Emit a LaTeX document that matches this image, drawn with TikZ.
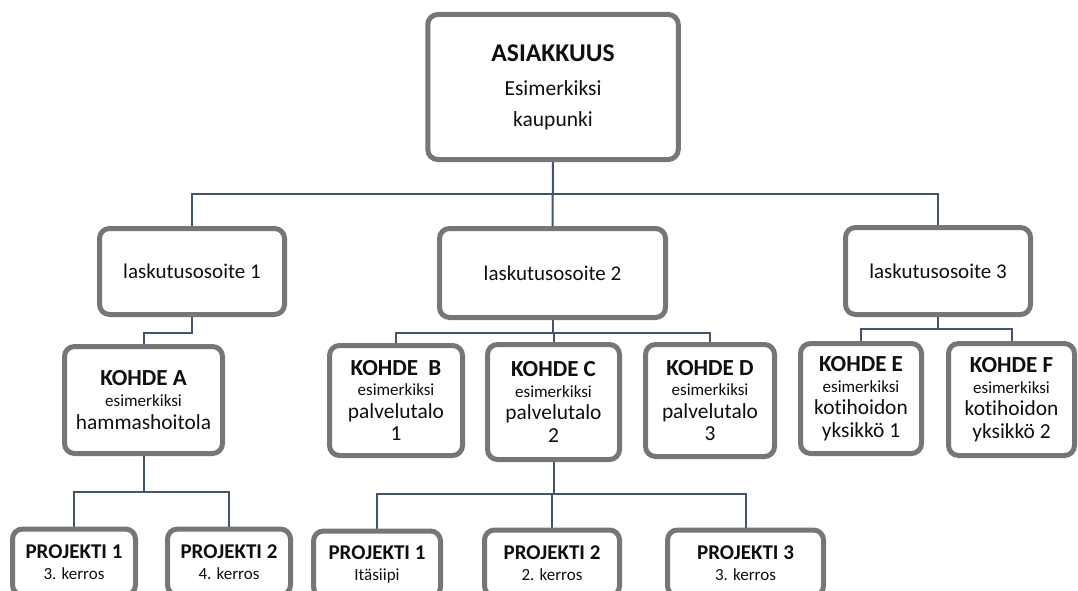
\documentclass[tikz,border=0pt]{standalone}
\usepackage{fontspec}
\setmainfont[Ligatures=NoCommon]{Carlito}
\usetikzlibrary{backgrounds,shadows}
\definecolor{conncol}{RGB}{68,84,106}
\definecolor{boxedge}{RGB}{118,118,118}
\definecolor{txt}{RGB}{15,15,15}
\tikzset{
  box/.style={draw=boxedge, line width=5pt, rounded corners=10pt, fill=white,
    align=center, text=txt, inner sep=0pt,
    drop shadow={shadow xshift=1.5pt, shadow yshift=-1.5pt, opacity=0.35, fill=black!60}},
  lbox/.style={box, font=\fontsize{21}{24}\selectfont},
  kbox/.style={box, font=\fontsize{21.4}{22.5}\selectfont},
  pbox/.style={box, font=\fontsize{17}{21}\selectfont, minimum height=66},
  conn/.style={draw=conncol, line width=2pt},
}
\newcommand{\ktitle}[1]{{\bfseries\fontsize{23}{23}\selectfont #1}}
\newcommand{\ksmall}[1]{{\fontsize{17}{17}\selectfont #1}}
\newcommand{\ptitle}[1]{{\bfseries\fontsize{21}{21}\selectfont #1}}
\begin{document}
\begin{tikzpicture}[x=1pt,y=-1pt]
\useasboundingbox (0,0) rectangle (1078,591);
\clip (0,0) rectangle (1078,591);

% level coordinates
\coordinate (lev0) at (0,194);
\coordinate (lev1) at (0,333);
\coordinate (lev2) at (0,333);
\coordinate (lev3) at (0,329);
\coordinate (lev4) at (0,492);
\coordinate (lev5) at (0,494);

% boxes
\node[box, font=\fontsize{21.5}{31}\selectfont, minimum width=250.5, minimum height=145] (asia) at (553,87)
  {{\bfseries\fontsize{25.6}{26}\selectfont ASIAKKUUS}\\[3pt]Esimerkiksi\\kaupunki};

\node[lbox, minimum width=185, minimum height=86] (l1) at (192,271.5) {laskutusosoite 1};
\node[lbox, minimum width=226, minimum height=89] (l2) at (552.5,273) {laskutusosoite 2};
\node[lbox, minimum width=185, minimum height=87] (l3) at (938,271) {laskutusosoite 3};

\node[kbox, minimum width=158, minimum height=107] (ka) at (143.5,400)
  {\ktitle{KOHDE A}\\[-1.5pt]\ksmall{esimerkiksi}\\hammashoitola};
\node[kbox, minimum width=133, minimum height=110] (kb) at (396,400.5)
  {\ktitle{KOHDE\ \ B}\\[-2pt]\ksmall{esimerkiksi}\\palvelutalo\\1};
\node[kbox, minimum width=132, minimum height=115] (kc) at (553.5,402)
  {\ktitle{KOHDE C}\\[-2pt]\ksmall{esimerkiksi}\\palvelutalo\\2};
\node[kbox, minimum width=129, minimum height=112] (kd) at (710,400.5)
  {\ktitle{KOHDE D}\\[-2pt]\ksmall{esimerkiksi}\\palvelutalo\\3};
\node[kbox, minimum width=121, minimum height=110] (ke) at (861,398.5)
  {\ktitle{KOHDE E}\\[-2pt]\ksmall{esimerkiksi}\\kotihoidon\\yksikkö 1};
\node[kbox, minimum width=126, minimum height=112] (kf) at (1011.5,399.5)
  {\ktitle{KOHDE F}\\[-2pt]\ksmall{esimerkiksi}\\kotihoidon\\yksikkö 2};

\node[pbox, minimum width=123] (pa1) at (74,562) {\ptitle{PROJEKTI 1}\\3. kerros};
\node[pbox, minimum width=123] (pa2) at (229,562) {\ptitle{PROJEKTI 2}\\4. kerros};
\node[pbox, minimum width=127] (pc1) at (377,564) {\ptitle{PROJEKTI 1}\\Itäsiipi};
\node[pbox, minimum width=135] (pc2) at (552,563) {\ptitle{PROJEKTI 2}\\2. kerros};
\node[pbox, minimum width=156] (pc3) at (745.5,563) {\ptitle{PROJEKTI 3}\\3. kerros};

% connectors
\begin{pgfonlayer}{background}
\draw[conn] (asia.south) -- (asia.south |- lev0) -| (l1.north);
\draw[conn] (asia.south) -- (asia.south |- lev0) -| (l3.north);
\draw[conn] (asia.south) -- (l2.north);

\draw[conn] (l1.south) -- (l1.south |- lev1) -| (ka.north);

\draw[conn] (l2.south) -- (l2.south |- lev2) -| (kb.north);
\draw[conn] (l2.south) -- (l2.south |- lev2) -| (kc.north);
\draw[conn] (l2.south) -- (l2.south |- lev2) -| (kd.north);

\draw[conn] (l3.south) -- (l3.south |- lev3) -| (ke.north);
\draw[conn] (l3.south) -- (l3.south |- lev3) -| (kf.north);

\draw[conn] (ka.south) -- (ka.south |- lev4) -| (pa1.north);
\draw[conn] (ka.south) -- (ka.south |- lev4) -| (pa2.north);

\draw[conn] (kc.south) -- (kc.south |- lev5) -| (pc1.north);
\draw[conn] (kc.south) -- (kc.south |- lev5) -| (pc2.north);
\draw[conn] (kc.south) -- (kc.south |- lev5) -| (pc3.north);
\end{pgfonlayer}
\end{tikzpicture}
\end{document}
